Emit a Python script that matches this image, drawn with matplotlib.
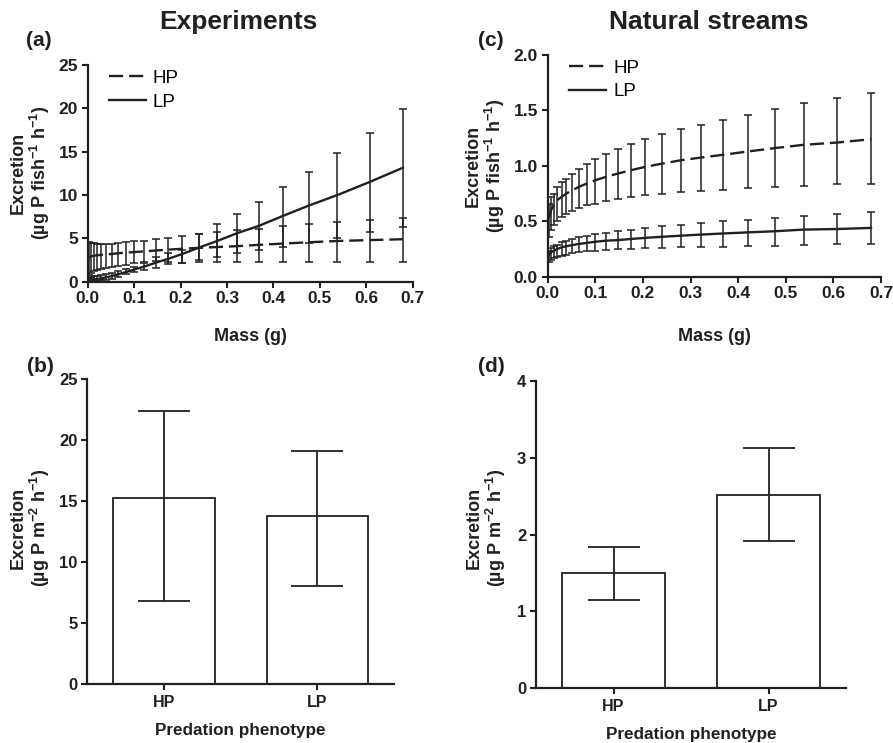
import matplotlib
matplotlib.use("Agg")
import matplotlib.pyplot as plt
import numpy as np

plt.rcParams["font.family"] = ["Liberation Sans", "DejaVu Sans"]
plt.rcParams["mathtext.fontset"] = "custom"
plt.rcParams["mathtext.rm"] = "Liberation Sans:bold"
plt.rcParams["mathtext.bf"] = "Liberation Sans:bold"
plt.rcParams["mathtext.default"] = "rm"

INK = "#231f20"

# ---- data ----
mass = [0.003, 0.007, 0.013, 0.020, 0.029, 0.039, 0.052, 0.065, 0.082, 0.100,
        0.122, 0.147, 0.174, 0.204, 0.240, 0.279, 0.322, 0.369, 0.421, 0.477,
        0.538, 0.607, 0.679]

# (a) Experiments
exp_hp_mean = [2.80, 2.90, 3.00, 3.05, 3.10, 3.15, 3.20, 3.28, 3.35, 3.42,
               3.50, 3.60, 3.70, 3.80, 3.90, 4.00, 4.10, 4.25, 4.40, 4.55,
               4.70, 4.80, 4.90]
exp_hp_lo = [0.80, 1.00, 1.20, 1.35, 1.50, 1.60, 1.75, 1.85, 1.95, 2.10,
             2.25, 2.35, 2.30, 2.20, 2.30, 2.30, 2.30, 2.30, 2.30, 2.30,
             2.30, 2.30, 2.30]
exp_hp_hi = [4.60, 4.50, 4.45, 4.40, 4.40, 4.40, 4.40, 4.45, 4.55, 4.65,
             4.75, 4.90, 5.05, 5.30, 5.55, 5.75, 5.95, 6.10, 6.45, 6.65,
             6.90, 7.10, 7.40]
exp_lp_mean = [0.15, 0.20, 0.25, 0.30, 0.40, 0.50, 0.65, 0.85, 1.10, 1.40,
               1.75, 2.20, 2.65, 3.20, 3.95, 4.70, 5.60, 6.45, 7.60, 8.80,
               10.0, 11.5, 13.15]
exp_lp_lo = [0.00, 0.02, 0.05, 0.10, 0.15, 0.25, 0.35, 0.50, 0.85, 1.15,
             1.35, 1.55, 2.00, 2.10, 2.50, 2.89, 3.27, 3.66, 4.04, 4.50,
             5.08, 5.70, 6.35]
exp_lp_hi = [0.40, 0.50, 0.60, 0.65, 0.75, 0.85, 1.00, 1.20, 1.45, 1.75,
             2.10, 2.80, 3.30, 3.70, 5.45, 6.62, 7.81, 9.23, 10.95, 12.7,
             14.8, 17.2, 19.9]

# (c) Natural streams
nat_hp_mean = [0.53, 0.60, 0.65, 0.69, 0.72, 0.75, 0.78, 0.81, 0.84, 0.87,
               0.90, 0.93, 0.96, 0.99, 1.02, 1.05, 1.075, 1.10, 1.13, 1.16,
               1.19, 1.21, 1.24]
nat_hp_lo = [0.355, 0.42, 0.466, 0.50, 0.54, 0.57, 0.595, 0.617, 0.645, 0.66,
             0.683, 0.70, 0.72, 0.737, 0.75, 0.76, 0.773, 0.785, 0.80, 0.806,
             0.82, 0.833, 0.84]
nat_hp_hi = [0.66, 0.715, 0.75, 0.805, 0.85, 0.885, 0.93, 0.975, 1.02, 1.065,
             1.11, 1.155, 1.20, 1.245, 1.29, 1.33, 1.37, 1.417, 1.46, 1.516,
             1.567, 1.615, 1.66]
nat_lp_mean = [0.20, 0.22, 0.235, 0.25, 0.265, 0.275, 0.285, 0.295, 0.305, 0.315,
               0.325, 0.33, 0.34, 0.35, 0.36, 0.37, 0.38, 0.39, 0.40, 0.41,
               0.425, 0.43, 0.44]
nat_lp_lo = [0.13, 0.15, 0.165, 0.18, 0.19, 0.20, 0.21, 0.22, 0.23, 0.235,
             0.24, 0.247, 0.25, 0.256, 0.262, 0.265, 0.268, 0.27, 0.274, 0.28,
             0.286, 0.292, 0.295]
nat_lp_hi = [0.235, 0.256, 0.277, 0.29, 0.31, 0.325, 0.34, 0.355, 0.367, 0.385,
             0.397, 0.41, 0.42, 0.44, 0.455, 0.47, 0.485, 0.50, 0.51, 0.53,
             0.547, 0.563, 0.58]

# (b), (d) areal excretion
phenotypes = ["HP", "LP"]
exp_area_mean = [15.25, 13.8]
exp_area_lo = [6.8, 8.05]
exp_area_hi = [22.4, 19.1]
nat_area_mean = [1.50, 2.52]
nat_area_lo = [1.15, 1.92]
nat_area_hi = [1.84, 3.12]

W, H = 893, 743
fig = plt.figure(figsize=(W / 100, H / 100), dpi=100)


def box(l, t, r, b):
    return [l / W, 1 - b / H, (r - l) / W, (b - t) / H]


def style(ax, size):
    for s in ["top", "right"]:
        ax.spines[s].set_visible(False)
    for s in ["left", "bottom"]:
        ax.spines[s].set_linewidth(1.6)
        ax.spines[s].set_color(INK)
    ax.tick_params(direction="out", length=4, width=1.5, colors=INK,
                   labelsize=size, pad=3)
    for lab in ax.get_xticklabels() + ax.get_yticklabels():
        lab.set_fontweight("bold")


def curve_panel(ax, hp, lp, ymax, yticks, ylabels):
    for (m, lo, hi), ls, lab in [(hp, (0, (6, 2.5)), "HP"), (lp, "-", "LP")]:
        m, lo, hi = np.array(m), np.array(lo), np.array(hi)
        ax.errorbar(mass, m, yerr=[m - lo, hi - m], fmt="none", ecolor=INK,
                    elinewidth=1.1, capsize=2.6, capthick=1.1, zorder=2)
        ax.plot(mass, m, color=INK, lw=1.7, linestyle=ls, label=lab, zorder=3)
    ax.set_xlim(0, 0.7)
    ax.set_ylim(0, ymax)
    ax.set_xticks(np.arange(0, 0.71, 0.1))
    ax.set_xticklabels([f"{v:.1f}" for v in np.arange(0, 0.71, 0.1)])
    ax.set_yticks(yticks)
    ax.set_yticklabels(ylabels)
    style(ax, 12.5)
    ax.legend(loc="upper left", frameon=False, fontsize=13.5, handlelength=2.0,
              handletextpad=0.35, labelspacing=0.35, borderaxespad=0.2,
              bbox_to_anchor=(0.03, 1.03))


def bar_panel(ax, mean, lo, hi, ymax, yticks):
    mean, lo, hi = np.array(mean), np.array(lo), np.array(hi)
    xpos = np.arange(len(phenotypes))
    ax.bar(xpos, mean, width=0.66, color="white", edgecolor=INK, linewidth=1.3,
           zorder=2)
    ax.errorbar(xpos, mean, yerr=[mean - lo, hi - mean], fmt="none", ecolor=INK,
                elinewidth=1.3, capsize=18.5, capthick=1.3, zorder=3)
    ax.set_xlim(-0.5, 1.5)
    ax.set_ylim(0, ymax)
    ax.set_xticks(xpos)
    ax.set_xticklabels(phenotypes)
    ax.set_yticks(yticks)
    style(ax, 12)
    ax.tick_params(axis="x", labelsize=11.5, pad=4)


ax_a = fig.add_axes(box(87.7, 65, 412.7, 281.7))
curve_panel(ax_a, (exp_hp_mean, exp_hp_lo, exp_hp_hi),
            (exp_lp_mean, exp_lp_lo, exp_lp_hi), 25,
            [0, 5, 10, 15, 20, 25], ["0", "5", "10", "15", "20", "25"])

ax_c = fig.add_axes(box(547.7, 55, 881, 276.7))
curve_panel(ax_c, (nat_hp_mean, nat_hp_lo, nat_hp_hi),
            (nat_lp_mean, nat_lp_lo, nat_lp_hi), 2.0,
            [0, 0.5, 1.0, 1.5, 2.0], ["0.0", "0.5", "1.0", "1.5", "2.0"])

ax_b = fig.add_axes(box(87.3, 379, 394, 683.7))
bar_panel(ax_b, exp_area_mean, exp_area_lo, exp_area_hi, 25,
          [0, 5, 10, 15, 20, 25])

ax_d = fig.add_axes(box(536, 380.8, 846, 688.3))
bar_panel(ax_d, nat_area_mean, nat_area_lo, nat_area_hi, 4, [0, 1, 2, 3, 4])


def ftext(x, y, s, **kw):
    fig.text(x / W, 1 - y / H, s, color=INK, ha="center", va="center", **kw)


# titles and panel letters
ftext(238, 22, "Experiments", fontsize=19, fontweight="bold")
ftext(709, 22, "Natural streams", fontsize=19, fontweight="bold")
ftext(39, 41, "(a)", fontsize=15, fontweight="bold")
ftext(491, 41, "(c)", fontsize=15, fontweight="bold")
ftext(40, 366, "(b)", fontsize=15, fontweight="bold")
ftext(491, 366, "(d)", fontsize=15, fontweight="bold")

# axis labels
fish_lab = "Excretion\n(µg P fish$^{-1}$ h$^{-1}$)"
area_lab = "Excretion\n(µg P m$^{-2}$ h$^{-1}$)"
ftext(31, 173, fish_lab, fontsize=13, fontweight="bold", rotation=90,
      multialignment="center", linespacing=1.05)
ftext(486, 166, fish_lab, fontsize=13, fontweight="bold", rotation=90,
      multialignment="center", linespacing=1.05)
ftext(31, 528, area_lab, fontsize=13, fontweight="bold", rotation=90,
      multialignment="center", linespacing=1.05)
ftext(487, 528, area_lab, fontsize=13, fontweight="bold", rotation=90,
      multialignment="center", linespacing=1.05)

ftext(250, 337, "Mass (g)", fontsize=13, fontweight="bold")
ftext(714, 337, "Mass (g)", fontsize=13, fontweight="bold")
ftext(240, 731, "Predation phenotype", fontsize=12.3, fontweight="bold")
ftext(691, 735, "Predation phenotype", fontsize=12.3, fontweight="bold")

fig.savefig("out.png", dpi=100, facecolor="white")
